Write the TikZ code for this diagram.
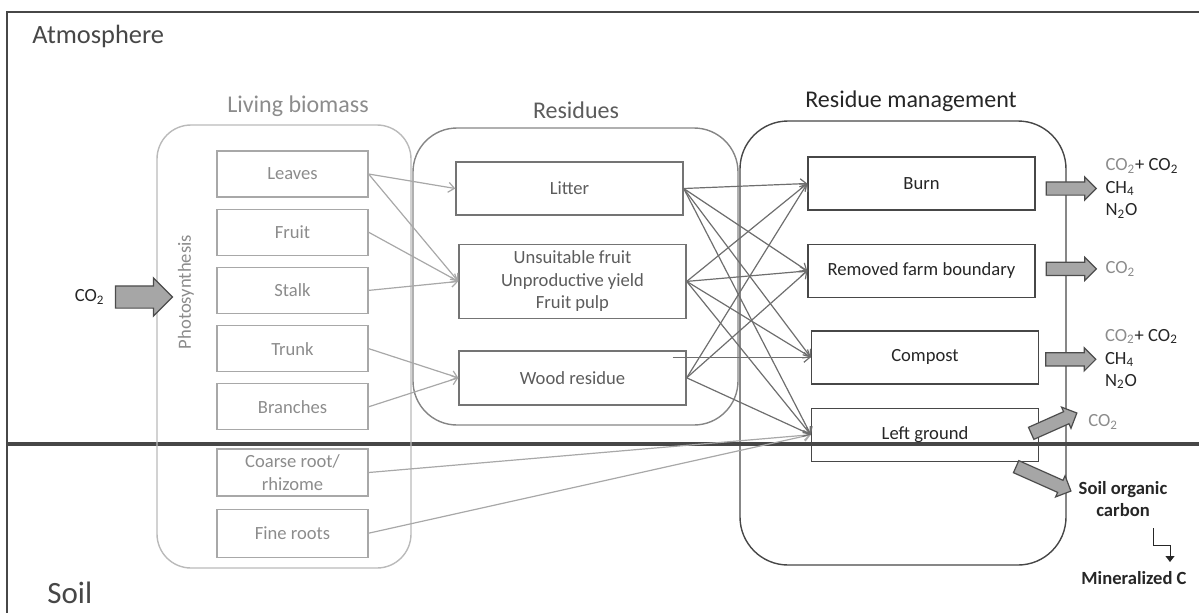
\documentclass[tikz,border=0pt]{standalone}
\usepackage{fontspec}
\setmainfont{Carlito}
\usetikzlibrary{arrows.meta,positioning,calc,shapes.arrows}
\definecolor{ink}{HTML}{262626}
\definecolor{frame}{HTML}{474747}
\definecolor{live}{HTML}{8C8C8C}
\definecolor{liveline}{HTML}{A8A8A8}
\definecolor{resid}{HTML}{5C5C5C}
\definecolor{flow}{HTML}{6E6E6E}
\definecolor{gas}{HTML}{8C8C8C}
\definecolor{blockfill}{HTML}{A6A6A6}
\newcommand{\boxfont}{\fontsize{9.3}{11.25}\selectfont}
\newcommand{\titlefont}{\fontsize{12}{14}\selectfont}
\newcommand{\co}{CO\textsubscript{2}}
\tikzset{
  every node/.style={font=\boxfont,text=ink},
  zone/.style={draw=frame,line width=1pt},
  zonelabel/.style={font=\fontsize{13.2}{15}\selectfont,text=frame,anchor=base west,inner sep=0pt},
  group/.style={draw,line width=0.7pt,inner sep=0pt},
  title/.style={font=\titlefont,anchor=base,inner sep=0pt},
  lbbox/.style={draw=liveline,text=live,line width=0.6pt,minimum width=75.5pt,minimum height=23pt,inner sep=1pt,align=center},
  resbox/.style={draw=resid!85,text=resid,line width=0.7pt,minimum width=113.5pt,minimum height=26.5pt,inner sep=1pt,align=center},
  mgmtbox/.style={draw=frame,text=ink,line width=0.7pt,minimum width=113.5pt,minimum height=26.5pt,inner sep=1pt,align=center},
  emit/.style={single arrow,draw=black!70,fill=blockfill,line width=0.6pt,minimum height=25pt,single arrow head extend=2.5pt,inner sep=3pt},
  thinarr/.style={-{Straight Barb[length=3pt,width=5pt]},draw=liveline,line width=0.6pt},
  arrow/.style={-{Straight Barb[length=3pt,width=5pt]},draw=flow,line width=0.6pt},
  elbow/.style={-{Triangle[length=3pt,width=4.5pt]},draw=ink,line width=0.5pt},
  gasnote/.style={align=left,inner sep=0pt,anchor=west},
  soilnote/.style={font=\boxfont\bfseries,align=center,inner sep=2pt},
}

\begin{document}
\begin{tikzpicture}[x=0.5pt,y=-0.5pt,node distance=6pt]
\useasboundingbox (0,0) rectangle (1199,612);
\clip (0,0) rectangle (1199,612);

% Zones
\draw[zone] (7,12) rectangle (1230,443);
\draw[zone] (7,445) rectangle (1230,640);
\node[zonelabel] (atmo) at (32,43) {Atmosphere};
\node[zonelabel,font=\fontsize{15.5}{18}\selectfont] (soil) at (47,603) {Soil};

% Groups
\node[group,draw=live!60,minimum width=127pt,minimum height=221.5pt,rounded corners=17pt] (living) at (284,346.5) {};
\node[group,draw=resid!75,minimum width=162.5pt,minimum height=148.5pt,rounded corners=22pt] (residues) at (575.5,276.5) {};
\node[group,draw=frame,minimum width=163pt,minimum height=222pt,rounded corners=24pt] (mgmt) at (903,343) {};
\node[title,text=live] (livtitle) at (298,112) {Living biomass};
\node[title,text=resid] (restitle) at (576,118) {Residues};
\node[title] (mgmttitle) at (911,107) {Residue management};

% Living biomass
\node[text=live,rotate=90] (photo) at (186,292) {Photosynthesis};
\node[lbbox] (leaves) at (292.5,174) {Leaves};
\node[lbbox,below=5.5pt of leaves] (fruit) {Fruit};
\node[lbbox,below=5.5pt of fruit] (stalk) {Stalk};
\node[lbbox,below=5.5pt of stalk] (trunk) {Trunk};
\node[lbbox,below=5.5pt of trunk] (branches) {Branches};
\node[lbbox,below=9pt of branches,minimum height=23.5pt] (coarse) {Coarse root/\\rhizome};
\node[lbbox,below=6pt of coarse,minimum height=24pt] (fine) {Fine roots};

% Residues
\node[resbox] (litter) at (569.5,188.5) {Litter};
\node[resbox,below=14pt of litter,minimum height=37pt,xshift=1.5pt] (unsuit) {Unsuitable fruit\\Unproductive yield\\Fruit pulp};
\node[resbox,below=15.5pt of unsuit,minimum height=27pt] (wood) {Wood residue};

% Residue management
\node[mgmtbox] (burn) at (921.5,183.5) {Burn};
\node[mgmtbox,below=16.5pt of burn] (removed) {Removed farm boundary};
\node[mgmtbox,below=16pt of removed,xshift=1.75pt] (compost) {Compost};
\node[mgmtbox,below=11.5pt of compost] (leftgr) {Left ground};

% Input
\node[emit,minimum height=28.5pt,inner sep=5.25pt,single arrow head extend=4pt] (inarr) at (138.5,297) {};
\node[left=1.7pt of inarr] (co2in) {\co};

% Arrows
\draw[thinarr] (leaves.east) -- (litter.west);
\foreach \s in {leaves,fruit,stalk} {\draw[thinarr] (\s.east) -- (unsuit.west);}
\foreach \s in {trunk,branches} {\draw[thinarr] (\s.east) -- (wood.west);}
\foreach \s in {coarse,fine} {\draw[thinarr] (\s.east) -- (leftgr.west);}
\foreach \s in {litter,unsuit} {
  \foreach \t in {burn,removed,compost,leftgr} {\draw[arrow] (\s.east) -- (\t.west);}
}
\foreach \t in {burn,removed,leftgr} {\draw[arrow] (wood.east) -- (\t.west);}
\draw[arrow] ($(wood.east |- compost.west)+(-14,0)$) -- (compost.west);

% Emissions
\node[emit,right=5pt of burn,yshift=-2.5pt] (burnarr) {};
\node[emit,right=5pt of removed,yshift=1pt] (remarr) {};
\node[emit,right=3pt of compost,yshift=-1pt] (comparr) {};
\node[emit,rotate=24] (leftarr) at (1051,424.5) {};
\node[emit,rotate=-24,minimum height=30pt] (soilarr) at (1040.5,477.5) {};

\node[gasnote,right=4pt of burnarr] (burngas) {\textcolor{gas}{\co}+ \co\\CH\textsubscript{4}\\N\textsubscript{2}O};
\node[gasnote,right=4pt of remarr,text=gas] (remgas) {\co};
\node[gasnote,right=4pt of comparr] (compgas) {\textcolor{gas}{\co}+ \co\\CH\textsubscript{4}\\N\textsubscript{2}O};
\node[gasnote,text=gas] (leftgas) at (1088,422) {\co};

% Soil carbon
\node[soilnote] (soc) at (1123,499) {Soil organic\\carbon};
\node[soilnote] (mineral) at (1134,578) {Mineralized C};
\draw[elbow] ([xshift=15pt,yshift=-3.5pt]soc.south) -- ++(0,17) -| ([xshift=18pt,yshift=2.5pt]mineral.north);

\end{tikzpicture}
\end{document}
